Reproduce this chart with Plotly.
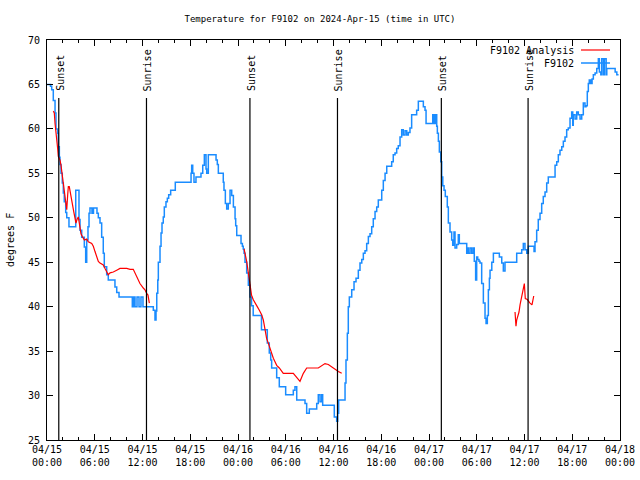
import pandas as pd
import plotly.graph_objects as go

BASE = pd.Timestamp("2024-04-15 00:00")

# Observations (hours since 2024-04-15 00:00 UTC, degrees F)
blue_hours = [0.00, 0.38, 0.44, 0.59, 0.79, 1.01, 1.13, 1.34, 1.42, 1.55, 1.63, 1.76, 1.92, 2.05, 2.17, 2.35, 2.48, 2.76,
              3.61, 4.02, 4.15, 4.36, 4.69, 4.86, 4.99, 5.15, 5.28, 5.40, 5.65, 5.84, 6.11, 6.28, 6.45, 6.66, 6.87, 7.07,
              7.20, 7.50, 7.70, 8.54, 8.76, 9.05, 10.72, 10.87, 11.06, 11.31, 11.56, 11.81, 12.06, 13.36, 13.57, 13.70,
              13.79, 13.92, 13.99, 14.20, 14.33, 14.45, 14.61, 14.74, 14.95, 15.12, 15.29, 15.54, 16.12, 18.10, 18.18,
              18.31, 18.47, 18.72, 19.35, 19.57, 19.77, 19.98, 20.07, 20.27, 21.24, 21.40, 21.53, 22.15, 22.24, 22.41,
              22.58, 22.78, 23.00, 23.21, 23.42, 23.63, 23.71, 23.84, 24.38, 24.55, 24.66, 24.76, 24.88, 25.09, 25.30,
              25.51, 25.70, 25.91, 26.95, 27.68, 27.93, 28.11, 28.23, 28.86, 29.19, 29.99, 30.95, 31.16, 31.38, 32.42,
              32.63, 32.96, 33.89, 34.09, 34.31, 34.52, 34.64, 36.10, 36.40, 36.53, 36.65, 37.45, 37.57, 37.74, 37.86,
              37.99, 38.29, 38.58, 38.83, 39.12, 39.33, 39.55, 39.75, 39.96, 40.17, 40.38, 40.59, 40.80, 41.00, 41.22,
              41.43, 41.63, 42.06, 42.26, 42.48, 42.69, 43.31, 43.51, 43.73, 43.94, 44.14, 44.36, 44.57, 44.77, 44.99,
              45.20, 45.40, 45.61, 45.82, 46.45, 46.66, 47.29, 47.50, 47.63, 48.47, 48.63, 48.80, 48.97, 49.05, 49.18,
              49.30, 49.48, 49.60, 49.73, 49.89, 50.05, 50.30, 50.43, 50.64, 50.85, 50.98, 51.14, 51.27, 51.48, 51.68,
              51.81, 52.74, 52.81, 52.94, 53.15, 53.36, 53.56, 53.69, 53.86, 53.99, 54.12, 54.28, 54.41, 54.62, 54.83,
              55.04, 55.17, 55.33, 55.46, 55.59, 55.67, 55.89, 56.09, 56.84, 57.14, 57.34, 57.55, 59.02, 59.65, 59.85,
              60.06, 60.28, 60.48, 61.20, 61.32, 61.53, 61.73, 61.95, 62.16, 62.36, 62.58, 62.79, 62.99, 63.84, 64.05,
              64.25, 64.46, 64.68, 64.88, 65.09, 65.30, 65.50, 65.72, 65.93, 66.06, 66.13, 66.35, 66.56, 66.76, 66.98,
              67.19, 67.39, 67.60, 67.73, 67.89, 68.02, 68.14, 68.32, 68.49, 68.65, 68.87, 69.08, 69.28, 69.41, 69.59,
              69.71, 69.92, 70.04, 70.26, 70.34, 71.39, 71.60, 71.82, 72.00]
blue_temps = [65.0, 65.0, 64.8, 64.4, 63.2, 61.8, 60.0, 59.5, 58.0, 56.8, 56.0, 55.0, 53.9, 52.8, 51.8, 50.6, 50.0, 49.0,
              53.1, 49.8, 48.6, 47.8, 46.7, 45.0, 47.5, 49.0, 50.5, 51.1, 50.5, 51.1, 51.1, 50.5, 50.0, 49.4, 47.8, 46.0,
              44.5, 43.6, 43.0, 42.2, 41.6, 41.1, 40.0, 41.1, 40.0, 41.1, 40.0, 41.1, 40.0, 39.6, 38.5, 39.5,
              41.5, 43.0, 45.0, 46.8, 48.3, 49.4, 50.1, 51.2, 51.8, 52.2, 52.6, 53.1, 54.0, 55.0, 55.9,
              55.0, 54.0, 54.6, 55.0, 55.9, 57.1, 55.5, 55.0, 57.1, 56.5, 56.0, 55.0, 54.0, 53.1,
              51.6, 51.0, 51.6, 53.1, 52.5, 51.2, 49.9, 49.1, 48.0, 47.1, 46.8, 46.5, 46.0, 45.0, 43.8,
              42.4, 41.1, 40.1, 39.0, 37.4, 35.9, 34.8, 34.0, 33.1, 32.0, 31.0, 30.1, 30.6, 31.0, 29.5,
              29.1, 28.0, 28.5, 29.1, 30.1, 29.3, 30.1, 28.9, 27.6, 27.1, 28.0, 29.5, 31.4, 34.0, 37.0,
              40.0, 41.1, 41.9, 42.8, 43.2, 44.1, 44.9, 45.3, 46.0, 46.3, 47.1, 47.9, 48.2, 49.0, 49.9,
              50.7, 51.2, 52.0, 53.1, 54.2, 55.0, 55.8, 56.3, 57.1, 57.3, 57.8, 58.1, 59.1, 59.9, 59.3,
              59.8, 59.3, 59.6, 60.1, 61.6, 62.1, 63.1, 62.5, 62.1, 60.6, 61.6, 60.6, 61.6, 60.3, 59.5,
              58.6, 57.4, 56.3, 54.6, 53.6, 53.1, 52.4, 51.2, 49.4, 48.4, 47.5, 46.9, 48.4, 46.6, 47.0,
              48.1, 47.1, 46.0, 46.6, 46.0, 46.6, 46.0, 46.6, 45.1, 43.0, 45.6, 45.3, 45.1, 44.9, 42.6,
              40.4, 38.7, 38.1, 39.0, 41.9, 43.2, 44.1, 45.0, 46.0, 45.6, 44.9, 44.0, 45.0, 46.0, 46.4,
              47.1, 46.4, 46.0, 46.8, 46.2, 47.3, 48.6, 49.8, 50.5, 51.6, 52.4, 52.9, 53.9, 54.6, 55.9,
              56.3, 57.1, 57.6, 58.0, 58.6, 59.1, 59.9, 60.1, 61.2, 61.9, 60.4, 61.6, 61.1, 61.9, 61.6,
              61.1, 61.6, 62.9, 62.5, 62.6, 64.2, 65.1, 65.5, 65.1, 65.6, 66.1, 66.3, 66.8, 67.9, 66.4,
              66.1, 67.9, 66.1, 67.9, 66.1, 66.8, 66.4, 66.1, 66.1]

# Analysis series (three segments)
red_hours_1 = [0.79, 0.92, 1.01, 1.22, 1.34, 1.42, 1.63, 1.76, 1.92, 2.05, 2.17, 2.35, 2.48, 2.60, 2.68, 2.80, 3.02,
               3.18, 3.36, 3.52, 3.64, 3.77, 3.93, 4.06, 4.27, 4.44, 4.69, 4.99, 5.19, 5.62, 5.82, 6.03, 6.25, 6.45,
               6.66, 7.07, 7.29, 7.50, 7.70, 7.92, 8.33, 8.76, 9.17, 10.02, 10.43, 10.84, 11.06, 11.27, 11.68, 12.10,
               12.31, 12.53, 12.69, 12.86]
red_temps_1 = [62.0, 61.8, 60.6, 59.1, 57.8, 56.9, 56.5, 55.9, 54.8, 54.2, 53.3, 51.6, 50.9, 52.6, 53.5, 53.5, 52.6,
               51.6, 50.7, 50.1, 49.4, 49.8, 50.1, 49.4, 48.2, 47.9, 47.5, 47.6, 47.3, 47.1, 46.8, 46.2, 45.6, 45.1,
               44.9, 44.7, 44.3, 43.9, 43.6, 43.8, 43.9, 44.1, 44.3, 44.3, 44.2, 44.2, 43.8, 43.4, 42.6, 42.1,
               41.9, 41.5, 41.3, 40.4]
red_hours_2 = [24.76, 24.88, 25.09, 25.30, 25.51, 25.70, 25.91, 26.13, 26.42, 26.68, 26.97, 27.18, 27.39, 27.60, 27.81,
               28.02, 28.23, 28.44, 28.65, 28.86, 29.19, 29.49, 29.69, 30.95, 31.38, 31.79, 32.21, 32.63, 34.09, 34.52,
               34.93, 35.35, 35.78, 36.19, 36.61, 37.03]
red_temps_2 = [46.5, 46.0, 45.1, 43.8, 42.6, 41.3, 40.8, 40.4, 40.0, 39.6, 39.1, 38.5, 37.4, 36.4, 35.9,
               35.3, 34.8, 34.2, 33.8, 33.4, 33.1, 32.7, 32.5, 32.5, 32.0, 31.6, 32.5, 33.1, 33.1, 33.4,
               33.6, 33.5, 33.2, 33.0, 32.7, 32.5]
red_hours_3 = [58.81, 58.93, 59.02, 59.15, 59.31, 59.44, 59.57, 59.73, 59.85, 59.98, 60.10, 60.36, 60.69, 60.94, 61.16]
red_temps_3 = [39.4, 37.8, 38.5, 38.9, 39.4, 40.2, 40.8, 41.5, 42.2, 42.6, 40.9, 40.8, 40.4, 40.2, 41.2]

sun_hours = [1.48, 12.5, 25.5, 36.5, 49.55, 60.45]
sun_labels = ["Sunset", "Sunrise", "Sunset", "Sunrise", "Sunset", "Sunrise"]

y_ticks = [25, 30, 35, 40, 45, 50, 55, 60, 65, 70]
x_tick_hours = [0, 6, 12, 18, 24, 30, 36, 42, 48, 54, 60, 66, 72]

title_text = "Temperature for F9102 on 2024-Apr-15 (time in UTC)"
BLUE = "#1a8cff"
RED = "#ff0000"
FONT = "DejaVu Sans Mono"


def to_time(hours):
    return [None if h is None else BASE + pd.Timedelta(hours=h) for h in hours]


red_hours = red_hours_1 + [None] + red_hours_2 + [None] + red_hours_3
red_temps = red_temps_1 + [None] + red_temps_2 + [None] + red_temps_3

x_tick_vals = to_time(x_tick_hours)
x_tick_text = [t.strftime("%m/%d") + "<br>" + t.strftime("%H:%M") for t in x_tick_vals]

fig = go.Figure()
fig.add_trace(go.Scatter(x=to_time(blue_hours), y=blue_temps, mode="lines", name="F9102",
                         line=dict(color=BLUE, width=1.5, shape="hv"), showlegend=False))
fig.add_trace(go.Scatter(x=to_time(red_hours), y=red_temps, mode="lines", name="F9102 Analysis",
                         line=dict(color=RED, width=1.2), connectgaps=False, showlegend=False))

L, R, T, B = 47, 20, 40, 40
W, H = 640, 480
pw, ph = W - L - R, H - T - B


def px_x(px):
    return (px - L) / pw


def px_y(py):
    return 1 - (py - T) / ph


shapes = []
annotations = []
for h, lab in zip(sun_hours, sun_labels):
    t = BASE + pd.Timedelta(hours=h)
    shapes.append(dict(type="line", xref="x", yref="paper", x0=t, x1=t, y0=0, y1=px_y(98),
                       line=dict(color="black", width=1.2)))
    annotations.append(dict(x=t, xref="x", y=px_y(93), yref="paper", text=lab, textangle=-90,
                            showarrow=False, xanchor="center", yanchor="bottom", xshift=1,
                            font=dict(family=FONT, size=10, color="black")))

# key (top right)
legend_items = [("F9102 Analysis", RED, 50, 1.2), ("F9102", BLUE, 63, 1.5)]
for text, col, py, w in legend_items:
    annotations.append(dict(x=px_x(576), y=px_y(py), xref="paper", yref="paper", text=text,
                            showarrow=False, xanchor="right", yanchor="middle",
                            font=dict(family=FONT, size=10, color="black")))
    shapes.append(dict(type="line", xref="paper", yref="paper", x0=px_x(581), x1=px_x(610),
                       y0=px_y(py), y1=px_y(py), line=dict(color=col, width=w)))

annotations.append(dict(x=px_x(10), y=0.5, xref="paper", yref="paper", text="degrees F", textangle=-90,
                        showarrow=False, xanchor="center", yanchor="middle",
                        font=dict(family=FONT, size=10, color="black")))

fig.update_layout(
    width=W, height=H,
    margin=dict(l=L, r=R, t=T, b=B, autoexpand=False),
    paper_bgcolor="white", plot_bgcolor="white",
    title=dict(text=title_text, x=0.5, xref="container", xanchor="center", y=1 - 19 / H, yanchor="middle",
               font=dict(family=FONT, size=9, color="black")),
    shapes=shapes, annotations=annotations,
    font=dict(family=FONT, size=10, color="black"),
)
fig.update_xaxes(range=[x_tick_vals[0], x_tick_vals[-1]], tickvals=x_tick_vals, ticktext=x_tick_text,
                 ticks="inside", ticklen=6, tickcolor="black", showline=True, linecolor="black", linewidth=1,
                 mirror="allticks", showgrid=False, zeroline=False, automargin=False,
                 minor=dict(dtick=2 * 3600 * 1000, ticks="inside", ticklen=3, tickcolor="black", showgrid=False),
                 tickfont=dict(family=FONT, size=10))
fig.update_yaxes(range=[25, 70], tickvals=y_ticks, ticks="inside", ticklen=6, tickcolor="black",
                 showline=True, linecolor="black", linewidth=1, mirror="allticks", showgrid=False,
                 zeroline=False, automargin=False, ticklabelstandoff=4, tickfont=dict(family=FONT, size=10))

fig.write_html("out.html")
